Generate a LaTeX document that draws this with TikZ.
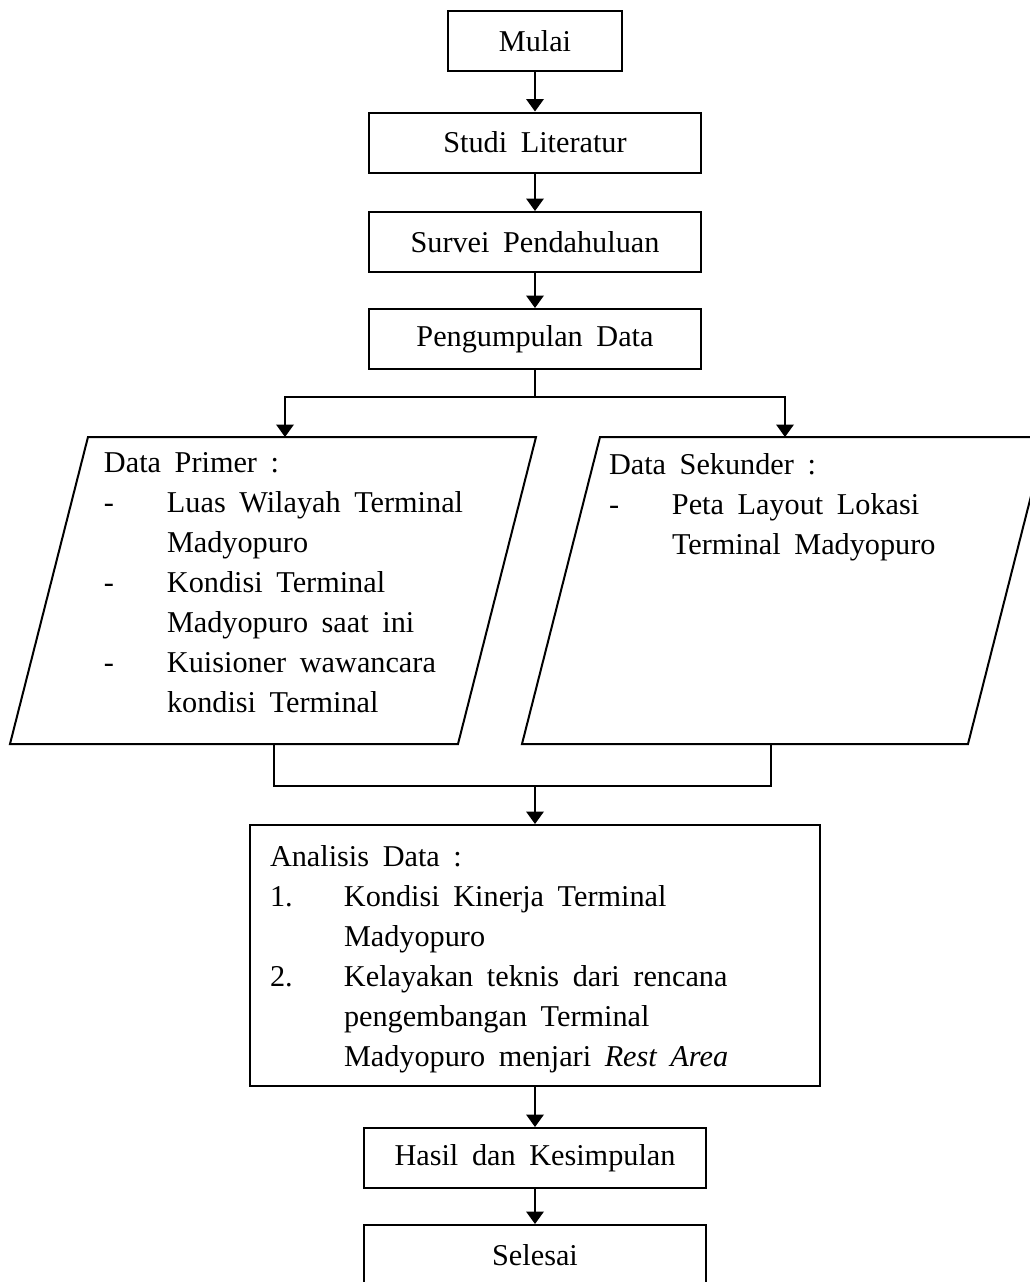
\documentclass[tikz,border=0pt]{standalone}
\usepackage{fontspec}
\setmainfont{Liberation Serif}[WordSpace=1.8]
\usetikzlibrary{arrows.meta}

\newcommand{\dashitem}{\makebox[25.2pt][l]{-}}
\newcommand{\dashskip}{\hspace*{25.2pt}}
\newcommand{\numitem}[1]{\makebox[29.6pt][l]{#1.}}
\newcommand{\numskip}{\hspace*{29.6pt}}

\begin{document}
\begin{tikzpicture}[x=0.4pt,y=-0.4pt,line width=0.8pt,>={Triangle[width=7pt,length=5pt]},
  font=\fontsize{12.1}{16}\selectfont,
  stepbox/.style={draw,rectangle,inner sep=0pt,align=center,minimum height=24pt},
  listtext/.style={anchor=north west,inner sep=0pt,align=left}]
\useasboundingbox (0,0) rectangle (1030,1282);
% main column
\node[stepbox,minimum width=69.6pt] (mulai) at (535,41) {Mulai};
\node[stepbox,minimum width=132.8pt] (studi) at (535,142.5) {Studi Literatur};
\node[stepbox,minimum width=132.8pt] (survei) at (535,242) {Survei Pendahuluan};
\node[stepbox,minimum width=132.8pt] (kumpul) at (535,339) {Pengumpulan Data};
\draw[->] (mulai) -- (studi);
\draw[->] (studi) -- (survei);
\draw[->] (survei) -- (kumpul);
% data primer dan sekunder
\coordinate (split) at (535,397);
\coordinate (primtop) at (285,437);
\coordinate (sektop) at (785,437);
\draw (10,744) -- (458,744) -- (536,437) -- (88,437) -- cycle;
\draw (522,744) -- (968,744) -- (1046,437) -- (600,437) -- cycle;
\node[listtext] (primer) at (103,451) {Data Primer :\\
  \dashitem Luas Wilayah Terminal\\
  \dashskip Madyopuro\\
  \dashitem Kondisi Terminal\\
  \dashskip Madyopuro saat ini\\
  \dashitem Kuisioner wawancara\\
  \dashskip kondisi Terminal};
\node[listtext] (sekunder) at (608,452) {Data Sekunder :\\
  \dashitem Peta Layout Lokasi\\
  \dashskip Terminal Madyopuro};
\draw (kumpul) -- (split);
\draw[->] (split) -| (primtop);
\draw[->] (split) -| (sektop);
\coordinate (primbot) at (274,744);
\coordinate (sekbot) at (771,744);
\coordinate (merge) at (535,786);
\draw (primbot) |- (merge) -| (sekbot);
% analisis
\node[draw,rectangle,inner sep=0pt,minimum width=228pt,minimum height=104.4pt] (analisis) at (535,955.5) {};
\node[listtext] (analisistext) at (269,844) {Analisis Data :\\
  \numitem{1}Kondisi Kinerja Terminal\\
  \numskip Madyopuro\\
  \numitem{2}Kelayakan teknis dari rencana\\
  \numskip pengembangan Terminal\\
  \numskip Madyopuro menjari \textit{Rest Area}};
\draw[->] (merge) -- (analisis);
\node[stepbox,minimum width=136.8pt] (hasil) at (535,1158) {Hasil dan Kesimpulan};
\node[stepbox,minimum width=136.8pt] (selesai) at (535,1255) {Selesai};
\draw[->] (analisis) -- (hasil);
\draw[->] (hasil) -- (selesai);
\end{tikzpicture}
\end{document}
